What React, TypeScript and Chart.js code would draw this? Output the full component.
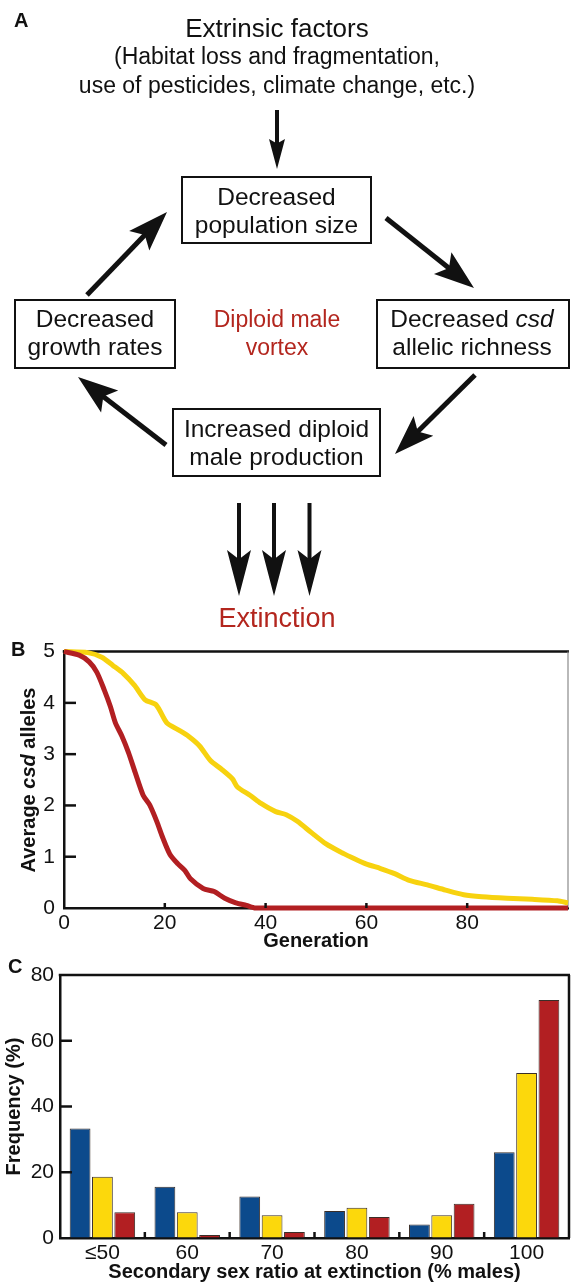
import React, { useEffect, useRef } from 'react';
import { Chart, registerables } from 'chart.js';
Chart.register(...registerables);

const FONT = '"Liberation Sans", Arial, Helvetica, sans-serif';
const INK = '#111111';
const RED = '#b21f22';
const YELLOW = '#f7d20f';
const BLUE = '#0c4a8c';

// ---------- Panel B data (average csd alleles per generation) ----------
const redGen = [0, 3, 5, 6.5, 8, 9.2, 10.2, 11.5, 12.8, 14.1, 15.7, 17, 18.4, 19.6, 21, 22.6, 24, 25.1, 27.6, 29.8, 31.9, 34.1, 36.2, 38, 50, 60, 70, 80, 90, 100];
const redVal = [5.0, 4.93, 4.8, 4.6, 4.25, 3.93, 3.61, 3.35, 3.03, 2.65, 2.2, 2.01, 1.69, 1.37, 1.05, 0.86, 0.73, 0.57, 0.38, 0.32, 0.19, 0.1, 0.05, 0, 0, 0, 0, 0, 0, 0];
const yellowGen = [0, 4.7, 7.5, 9.7, 11.8, 14, 16.1, 18.3, 20.4, 22.6, 24.7, 26.9, 29.1, 31.2, 33.4, 34.4, 36.9, 39.1, 42, 44.1, 46.3, 49.1, 52, 54.9, 57, 59.9, 62.8, 65.6, 68.5, 72.1, 75.7, 79.3, 82.9, 87.9, 92.9, 97.9, 100];
const yellowVal = [5.0, 4.98, 4.89, 4.73, 4.57, 4.34, 4.06, 3.96, 3.61, 3.48, 3.35, 3.16, 2.87, 2.71, 2.52, 2.36, 2.2, 2.04, 1.88, 1.82, 1.69, 1.47, 1.25, 1.09, 0.99, 0.86, 0.77, 0.67, 0.54, 0.45, 0.35, 0.26, 0.22, 0.19, 0.17, 0.14, 0.1];

// ---------- Panel C data (frequency %) ----------
const ratioCategories = ['≤50', '60', '70', '80', '90', '100'];
const blueFreq = [33.3, 15.6, 12.6, 8.2, 4.1, 26.1];
const yellowFreq = [18.6, 7.8, 6.9, 9.2, 6.9, 50.2];
const redFreq = [7.8, 0.9, 1.8, 6.4, 10.4, 72.4];

const tickFont = { family: FONT, size: 21 };
const titleFont = { family: FONT, size: 20, weight: 'bold' as const };

function strokeLine(ctx: CanvasRenderingContext2D, x1: number, y1: number, x2: number, y2: number) {
  ctx.beginPath();
  ctx.moveTo(x1, y1);
  ctx.lineTo(x2, y2);
  ctx.stroke();
}

function makeFramePlugin(id: string, rightColor: string, rightWidth: number, yTickLen: number, xTickLen: number, xBoundaries: boolean) {
  return {
    id,
    beforeDatasetsDraw(chart: any) {
      const { ctx, chartArea: a } = chart;
      ctx.save();
      ctx.strokeStyle = INK;
      ctx.lineWidth = 2.5;
      strokeLine(ctx, a.left - 1.25, a.top, a.right + 1, a.top);
      ctx.strokeStyle = rightColor;
      ctx.lineWidth = rightWidth;
      strokeLine(ctx, a.right, a.top, a.right, a.bottom);
      ctx.restore();
    },
    afterDatasetsDraw(chart: any) {
      const { ctx, chartArea: a, scales } = chart;
      ctx.save();
      ctx.strokeStyle = INK;
      ctx.lineWidth = 2.5;
      const ys = scales.y;
      ys.ticks.forEach((t: any) => {
        if (t.value > ys.min && t.value < ys.max) {
          const y = ys.getPixelForValue(t.value);
          strokeLine(ctx, a.left, y, a.left + yTickLen, y);
        }
      });
      const xs = scales.x;
      if (xBoundaries) {
        for (let i = 1; i < xs.ticks.length; i++) {
          const x = (xs.getPixelForTick(i - 1) + xs.getPixelForTick(i)) / 2;
          strokeLine(ctx, x, a.bottom, x, a.bottom - xTickLen);
        }
      } else {
        xs.ticks.forEach((t: any) => {
          if (t.value > xs.min && t.value < xs.max) {
            const x = xs.getPixelForValue(t.value);
            strokeLine(ctx, x, a.bottom, x, a.bottom - xTickLen);
          }
        });
      }
      ctx.restore();
    },
  };
}

function LineChartB() {
  const ref = useRef<HTMLCanvasElement>(null);
  useEffect(() => {
    if (!ref.current) return;
    const chart = new Chart(ref.current, {
      type: 'line',
      data: {
        datasets: [
          {
            label: 'red',
            data: redGen.map((g, i) => ({ x: g, y: redVal[i] })),
            borderColor: RED,
            borderWidth: 5,
            pointRadius: 0,
            tension: 0.25,
            clip: 10,
          },
          {
            label: 'yellow',
            data: yellowGen.map((g, i) => ({ x: g, y: yellowVal[i] })),
            borderColor: YELLOW,
            borderWidth: 5,
            pointRadius: 0,
            tension: 0.25,
            clip: 10,
          },
        ],
      },
      options: {
        animation: false,
        responsive: true,
        maintainAspectRatio: false,
        layout: { padding: { top: 17, right: 2, left: 0, bottom: 0 } },
        plugins: { legend: { display: false }, tooltip: { enabled: false } },
        scales: {
          x: {
            type: 'linear',
            min: 0,
            max: 100,
            grid: { display: true, drawOnChartArea: false, drawTicks: false },
            border: { display: true, color: INK, width: 2.5 },
            ticks: {
              stepSize: 20,
              font: tickFont,
              color: INK,
              padding: 3,
              callback: (v: any) => (v === 100 ? '' : String(v)),
            },
            title: { display: true, text: 'Generation', font: titleFont, color: INK, padding: 0 },
            afterFit: (s: any) => { s.height = 45; },
          },
          y: {
            min: 0,
            max: 5,
            grid: { display: true, drawOnChartArea: false, drawTicks: false },
            border: { display: true, color: INK, width: 2.5 },
            ticks: { stepSize: 1, font: tickFont, color: INK, padding: 9 },
            afterFit: (s: any) => { s.width = 64; },
          },
        },
      },
      plugins: [makeFramePlugin('frameB', '#8a8a8a', 1.2, 12, 5, false)],
    });
    return () => chart.destroy();
  }, []);
  return (
    <div style={{ position: 'absolute', left: 0, top: 630, width: 571, height: 323 }}>
      <canvas ref={ref} />
    </div>
  );
}

function BarChartC() {
  const ref = useRef<HTMLCanvasElement>(null);
  useEffect(() => {
    if (!ref.current) return;
    const common = { borderWidth: 1, borderColor: '#3a2e28', categoryPercentage: 0.79, barPercentage: 0.93 };
    const chart = new Chart(ref.current, {
      type: 'bar',
      data: {
        labels: ratioCategories,
        datasets: [
          { label: 'blue', data: blueFreq, backgroundColor: BLUE, ...common },
          { label: 'yellow', data: yellowFreq, backgroundColor: '#fcd80c', ...common },
          { label: 'red', data: redFreq, backgroundColor: RED, ...common },
        ],
      },
      options: {
        animation: false,
        responsive: true,
        maintainAspectRatio: false,
        layout: { padding: { top: 25, right: 2, left: 0, bottom: 0 } },
        plugins: { legend: { display: false }, tooltip: { enabled: false } },
        scales: {
          x: {
            type: 'category',
            offset: true,
            grid: { display: true, drawOnChartArea: false, drawTicks: false },
            border: { display: true, color: INK, width: 2.5 },
            ticks: { font: tickFont, color: INK, padding: 3 },
            title: {
              display: true,
              text: 'Secondary sex ratio at extinction (% males)',
              font: titleFont,
              color: INK,
              padding: 0,
            },
            afterFit: (s: any) => { s.height = 46; },
          },
          y: {
            min: 0,
            max: 80,
            grid: { display: true, drawOnChartArea: false, drawTicks: false },
            border: { display: true, color: INK, width: 2.5 },
            ticks: { stepSize: 20, font: tickFont, color: INK, padding: 6 },
            title: {
              display: true,
              text: 'Frequency (%)',
              font: titleFont,
              color: INK,
              padding: { top: 2.5, bottom: 0 },
            },
            afterFit: (s: any) => { s.width = 60; },
          },
        },
      },
      plugins: [makeFramePlugin('frameC', INK, 2.5, 12, 6, true)],
    });
    return () => chart.destroy();
  }, []);
  return (
    <div style={{ position: 'absolute', left: 0, top: 950, width: 571, height: 334 }}>
      <canvas ref={ref} />
    </div>
  );
}

function Arrow({ x1, y1, x2, y2, w, hw, hl, notch = 0.2 }: any) {
  const dx = x2 - x1;
  const dy = y2 - y1;
  const L = Math.hypot(dx, dy);
  const ux = dx / L;
  const uy = dy / L;
  const nx = -uy;
  const ny = ux;
  const bx = x2 - ux * hl;
  const by = y2 - uy * hl;
  const mx = x2 - ux * hl * (1 - notch);
  const my = y2 - uy * hl * (1 - notch);
  const pts = [
    [x2, y2],
    [bx + (nx * hw) / 2, by + (ny * hw) / 2],
    [mx, my],
    [bx - (nx * hw) / 2, by - (ny * hw) / 2],
  ]
    .map((p) => p.join(','))
    .join(' ');
  return (
    <g>
      <line x1={x1} y1={y1} x2={mx + ux} y2={my + uy} stroke={INK} strokeWidth={w} />
      <polygon points={pts} fill={INK} />
    </g>
  );
}

function Overlay() {
  const boxStyle = { fill: 'none', stroke: INK, strokeWidth: 2 };
  const t = { fontFamily: FONT, fill: INK };
  return (
    <svg
      width={571}
      height={1284}
      style={{ position: 'absolute', left: 0, top: 0, pointerEvents: 'none', zIndex: 2 }}
    >
      {/* Panel A */}
      <text x={14} y={27} fontSize={20} fontWeight="bold" {...t}>A</text>
      <text x={277} y={37} fontSize={26} textAnchor="middle" {...t}>Extrinsic factors</text>
      <text x={277} y={64} fontSize={23} textAnchor="middle" {...t}>(Habitat loss and fragmentation,</text>
      <text x={277} y={93} fontSize={23} textAnchor="middle" {...t}>use of pesticides, climate change, etc.)</text>

      <Arrow x1={277} y1={110} x2={277} y2={169} w={4} hw={16} hl={30} notch={0.15} />

      <rect x={182} y={177} width={189} height={66} {...boxStyle} />
      <text x={276.5} y={205} fontSize={24.5} textAnchor="middle" {...t}>Decreased</text>
      <text x={276.5} y={233} fontSize={24.5} textAnchor="middle" {...t}>population size</text>

      <rect x={15} y={300} width={160} height={68} {...boxStyle} />
      <text x={95} y={327} fontSize={24.5} textAnchor="middle" {...t}>Decreased</text>
      <text x={95} y={355} fontSize={24.5} textAnchor="middle" {...t}>growth rates</text>

      <rect x={377} y={300} width={192} height={68} {...boxStyle} />
      <text x={472} y={327} fontSize={24.5} textAnchor="middle" {...t}>
        Decreased <tspan fontStyle="italic">csd</tspan>
      </text>
      <text x={472} y={355} fontSize={24.5} textAnchor="middle" {...t}>allelic richness</text>

      <text x={277} y={327} fontSize={23} textAnchor="middle" fontFamily={FONT} fill="#b3261e">Diploid male</text>
      <text x={277} y={355} fontSize={23} textAnchor="middle" fontFamily={FONT} fill="#b3261e">vortex</text>

      <rect x={173} y={409} width={207} height={67} {...boxStyle} />
      <text x={276.5} y={437} fontSize={24.5} textAnchor="middle" {...t}>Increased diploid</text>
      <text x={276.5} y={465} fontSize={24.5} textAnchor="middle" {...t}>male production</text>

      <Arrow x1={386} y1={218} x2={474} y2={288} w={5} hw={28} hl={40} />
      <Arrow x1={475} y1={375} x2={395} y2={454} w={5} hw={28} hl={40} />
      <Arrow x1={166} y1={445} x2={78} y2={377} w={5} hw={28} hl={40} />
      <Arrow x1={87} y1={295} x2={167} y2={212} w={5} hw={28} hl={40} />

      <Arrow x1={239} y1={503} x2={239} y2={596} w={4} hw={24} hl={46} notch={0.2} />
      <Arrow x1={274} y1={503} x2={274} y2={596} w={4} hw={24} hl={46} notch={0.2} />
      <Arrow x1={309.5} y1={503} x2={309.5} y2={596} w={4} hw={24} hl={46} notch={0.2} />

      <text x={277} y={627} fontSize={27} textAnchor="middle" fontFamily={FONT} fill="#b3261e">Extinction</text>

      {/* Panel B labels */}
      <text x={11} y={656} fontSize={20} fontWeight="bold" {...t}>B</text>
      <text
        x={35}
        y={780}
        fontSize={20}
        fontWeight="bold"
        textAnchor="middle"
        transform="rotate(-90 35 780)"
        {...t}
      >
        Average <tspan fontStyle="italic">csd</tspan> alleles
      </text>

      {/* Panel C label */}
      <text x={8} y={973} fontSize={20} fontWeight="bold" {...t}>C</text>
    </svg>
  );
}

export default function App() {
  return (
    <div
      style={{
        position: 'absolute',
        left: 0,
        top: 0,
        width: 571,
        height: 1284,
        background: '#ffffff',
        overflow: 'hidden',
      }}
    >
      <LineChartB />
      <BarChartC />
      <Overlay />
    </div>
  );
}
